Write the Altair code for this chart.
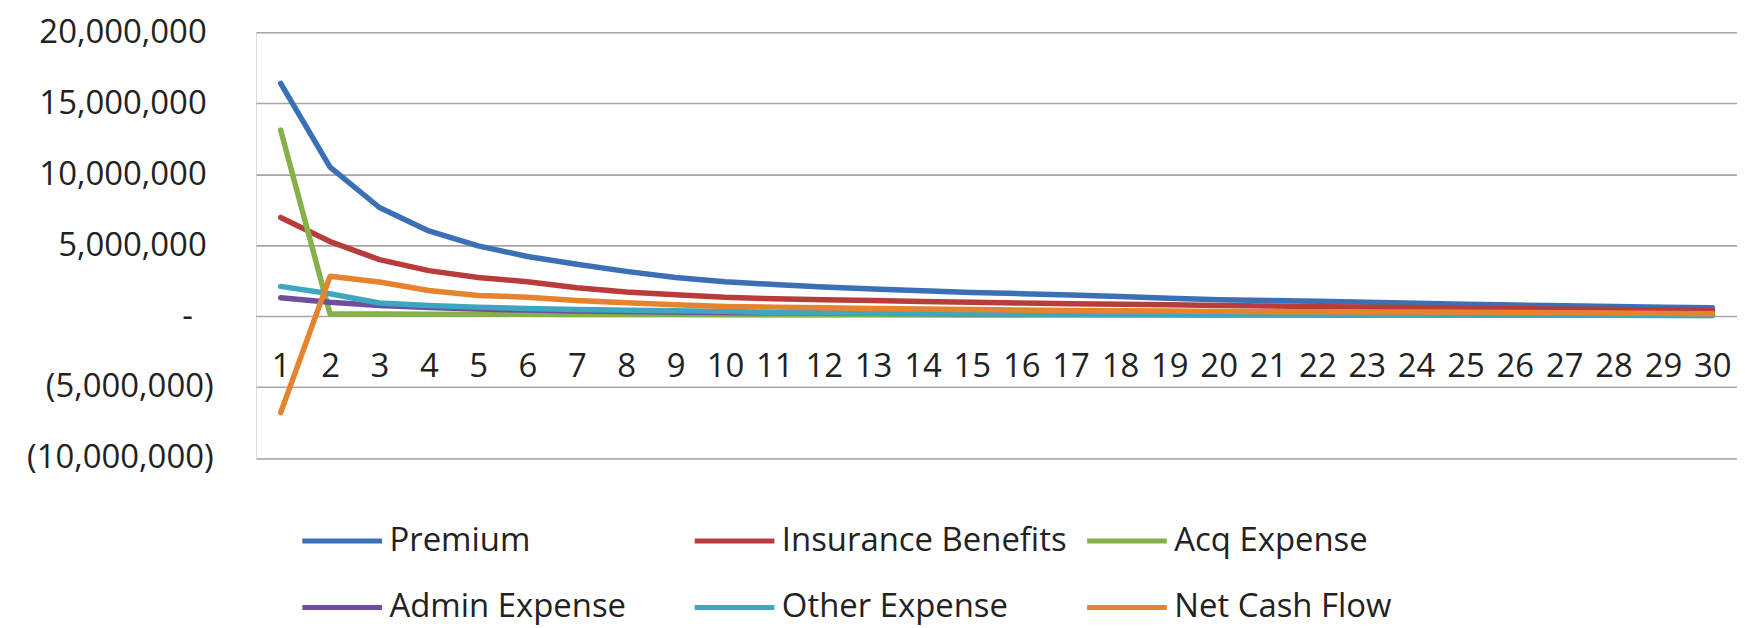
import altair as alt
import pandas as pd

years = list(range(1, 31))

series_names = ["Premium", "Insurance Benefits", "Acq Expense",
                "Admin Expense", "Other Expense", "Net Cash Flow"]
series_colors = ["#3B6FB6", "#B83C3A", "#86B04A", "#6E4E9E", "#3FA6C0", "#E5832E"]

premium = [16400000, 10500000, 7650000, 6000000, 4950000, 4200000, 3650000, 3150000,
           2720000, 2420000, 2220000, 2050000, 1900000, 1780000, 1660000, 1580000,
           1480000, 1380000, 1250000, 1150000, 1100000, 1040000, 980000, 900000,
           840000, 780000, 720000, 680000, 620000, 580000]
insurance_benefits = [6950000, 5250000, 3980000, 3200000, 2720000, 2420000, 2000000, 1700000,
                      1500000, 1320000, 1220000, 1150000, 1100000, 1030000, 970000, 920000,
                      870000, 830000, 790000, 750000, 710000, 670000, 630000, 600000,
                      560000, 520000, 490000, 460000, 430000, 400000]
acq_expense = [13100000, 150000, 140000, 130000, 125000, 120000, 115000, 110000,
               105000, 100000, 95000, 90000, 88000, 85000, 82000, 80000,
               77000, 74000, 72000, 70000, 67000, 64000, 62000, 60000,
               58000, 56000, 54000, 52000, 50000, 48000]
admin_expense = [1290000, 980000, 750000, 600000, 500000, 420000, 360000, 320000,
                 280000, 250000, 230000, 210000, 195000, 180000, 168000, 155000,
                 145000, 135000, 126000, 118000, 110000, 103000, 97000, 91000,
                 85000, 80000, 75000, 70000, 65000, 60000]
other_expense = [2090000, 1570000, 920000, 750000, 630000, 530000, 460000, 410000,
                 370000, 330000, 250000, 220000, 200000, 180000, 160000, 140000,
                 120000, 110000, 100000, 90000, 85000, 80000, 75000, 70000,
                 65000, 60000, 55000, 50000, 45000, 40000]
net_cash_flow = [-6800000, 2800000, 2400000, 1800000, 1450000, 1330000, 1100000, 940000,
                 800000, 680000, 630000, 580000, 540000, 500000, 460000, 430000,
                 400000, 370000, 350000, 330000, 310000, 300000, 290000, 280000,
                 270000, 250000, 230000, 210000, 190000, 170000]

y_ticks = [-10000000, -5000000, 0, 5000000, 10000000, 15000000, 20000000]

all_values = [premium, insurance_benefits, acq_expense, admin_expense, other_expense, net_cash_flow]
rows = []
for name, vals in zip(series_names, all_values):
    for yr, v in zip(years, vals):
        rows.append({"Year": yr, "Series": name, "Value": v})
df = pd.DataFrame(rows)

FONT = "Open Sans"
TXT = "#222222"

x_enc = alt.X(
    "Year:O",
    scale=alt.Scale(type="point", padding=0.5),
    axis=alt.Axis(orient="bottom", offset=-91.5, domain=False, ticks=False, tickSize=0,
                  labelPadding=0, labelBaseline="middle", labelAngle=0,
                  labelFontSize=33, labelFont=FONT, labelColor=TXT, title=None, grid=False),
)
y_enc = alt.Y(
    "Value:Q",
    scale=alt.Scale(domain=[-10000000, 20000000], nice=False, zero=False),
    axis=alt.Axis(values=y_ticks, grid=True, gridColor="#A6A6A6", gridWidth=1.6,
                  domain=False, ticks=False, tickSize=0, labelLimit=400,
                  labelPadding={"condition": [{"test": "datum.value > 0", "value": 50},
                                              {"test": "datum.value == 0", "value": 64}],
                                "value": 43},
                  labelFontSize=33, labelFont=FONT, labelColor=TXT, title=None,
                  labelExpr="datum.value > 0 ? format(datum.value, ',') : "
                            "(datum.value < 0 ? '(' + format(-datum.value, ',') + ')' : '-')"),
)
color_enc = alt.Color(
    "Series:N",
    scale=alt.Scale(domain=series_names, range=series_colors),
    legend=alt.Legend(orient="none", legendX=70, legendY=494, direction="horizontal",
                      columns=3, gridAlign="all", symbolType="M-4,0H4", symbolSize=400,
                      symbolStrokeWidth=5, labelFontSize=33, labelFont=FONT,
                      labelColor=TXT, labelLimit=600, columnPadding=10, rowPadding=33,
                      labelOffset=31, title=None, padding=0),
)

layers = []
for name in series_names:
    layers.append(
        alt.Chart(df)
        .transform_filter(alt.datum.Series == name)
        .mark_line(strokeWidth=5.5, strokeCap="round", strokeJoin="round")
        .encode(x=x_enc, y=y_enc, color=color_enc)
    )

chart = (
    alt.layer(*layers)
    .properties(width=1487, height=427.5,
                padding={"left": 249, "top": 23, "right": 0, "bottom": 200},
                autosize=alt.AutoSizeParams(type="none"))
    .configure_view(stroke=None)
    .configure(background="white")
)

chart.save("out.html", embed_options={"renderer": "svg", "actions": False})
